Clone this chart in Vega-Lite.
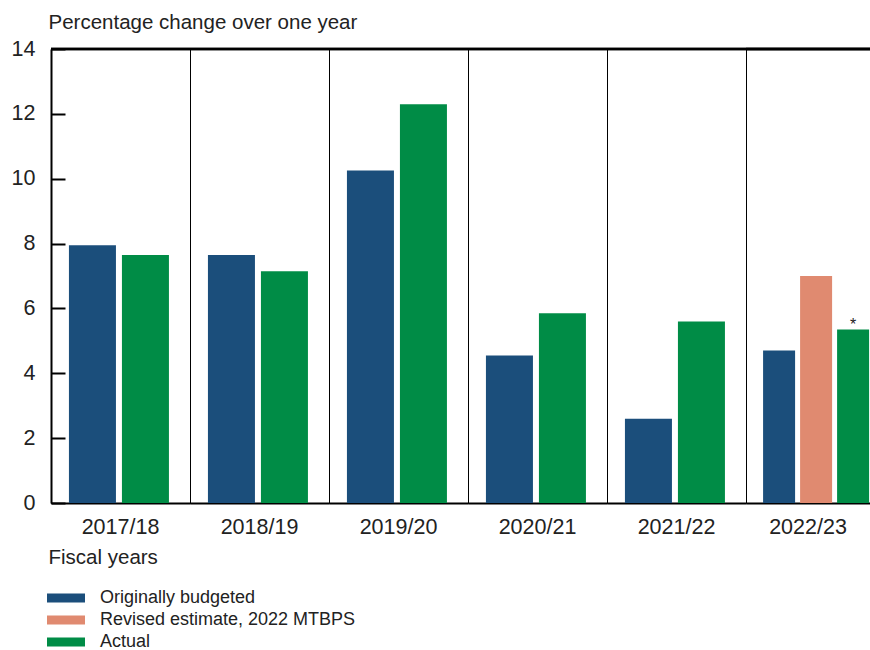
{
  "$schema": "https://vega.github.io/schema/vega-lite/v6.json",
  "padding": {"left": 10, "top": 11, "right": 0, "bottom": 0},
  "background": "white",
  "bounds": "flush",
  "data": {"values": [
    {"year": "2017/18", "series": "Originally budgeted", "value": 7.95},
    {"year": "2017/18", "series": "Actual", "value": 7.65},
    {"year": "2018/19", "series": "Originally budgeted", "value": 7.65},
    {"year": "2018/19", "series": "Actual", "value": 7.15},
    {"year": "2019/20", "series": "Originally budgeted", "value": 10.25},
    {"year": "2019/20", "series": "Actual", "value": 12.3},
    {"year": "2020/21", "series": "Originally budgeted", "value": 4.55},
    {"year": "2020/21", "series": "Actual", "value": 5.85},
    {"year": "2021/22", "series": "Originally budgeted", "value": 2.6},
    {"year": "2021/22", "series": "Actual", "value": 5.6},
    {"year": "2022/23", "series": "Originally budgeted", "value": 4.7},
    {"year": "2022/23", "series": "Revised estimate, 2022 MTBPS", "value": 7.0},
    {"year": "2022/23", "series": "Actual", "value": 5.35, "note": "*"}
  ]},
  "spacing": 0,
  "resolve": {"scale": {"xOffset": "independent", "x": "independent", "color": "shared"}},
  "hconcat": [
    {
      "width": 139, "height": 454,
      "transform": [{"filter": "datum.year === '2017/18'"}],
      "layer": [
        {"mark": {"type": "bar"}, "encoding": {
          "x": {"field": "year", "type": "nominal", "scale": {"paddingInner": 0, "paddingOuter": 0}, "axis": {"title": "Fiscal years", "titleX": -3, "titleY": 60, "titleAlign": "left", "titleBaseline": "alphabetic", "titleAnchor": "start"}},
          "xOffset": {"field": "series", "type": "nominal", "sort": ["Originally budgeted", "Revised estimate, 2022 MTBPS", "Actual"], "scale": {"paddingInner": 0.113, "paddingOuter": 0.368, "align": 0.46}},
          "y": {"field": "value", "type": "quantitative", "scale": {"domain": [0, 14], "nice": false}, "axis": {"title": "Percentage change over one year", "values": [0, 2, 4, 6, 8, 10, 12, 14], "titleAngle": 0, "titleX": -3, "titleY": -21, "titleAlign": "left", "titleBaseline": "alphabetic"}},
          "color": {"field": "series", "type": "nominal", "scale": {"domain": ["Originally budgeted", "Revised estimate, 2022 MTBPS", "Actual"], "range": ["#1b4e7b", "#e08a70", "#008c46"]}, "legend": {"title": null, "orient": "none", "legendX": 4, "legendY": 538, "direction": "vertical"}}
        }},
        {"mark": {"type": "rule", "strokeWidth": 2.5, "color": "black"}, "encoding": {"y": {"datum": 14, "type": "quantitative", "scale": {"domain": [0, 14], "nice": false}}}}
      ]
    },
    {
      "width": 139, "height": 454,
      "transform": [{"filter": "datum.year === '2018/19'"}],
      "layer": [
        {"mark": {"type": "bar"}, "encoding": {
          "x": {"field": "year", "type": "nominal", "scale": {"paddingInner": 0, "paddingOuter": 0}, "axis": {"title": null}},
          "xOffset": {"field": "series", "type": "nominal", "sort": ["Originally budgeted", "Revised estimate, 2022 MTBPS", "Actual"], "scale": {"paddingInner": 0.113, "paddingOuter": 0.368, "align": 0.46}},
          "y": {"field": "value", "type": "quantitative", "scale": {"domain": [0, 14], "nice": false}, "axis": null},
          "color": {"field": "series", "type": "nominal", "scale": {"domain": ["Originally budgeted", "Revised estimate, 2022 MTBPS", "Actual"], "range": ["#1b4e7b", "#e08a70", "#008c46"]}}
        }},
        {"mark": {"type": "rule", "strokeWidth": 2.5, "color": "black"}, "encoding": {"y": {"datum": 14, "type": "quantitative", "scale": {"domain": [0, 14], "nice": false}, "axis": null}}}
      ]
    },
    {
      "width": 139, "height": 454,
      "transform": [{"filter": "datum.year === '2019/20'"}],
      "layer": [
        {"mark": {"type": "bar"}, "encoding": {
          "x": {"field": "year", "type": "nominal", "scale": {"paddingInner": 0, "paddingOuter": 0}, "axis": {"title": null}},
          "xOffset": {"field": "series", "type": "nominal", "sort": ["Originally budgeted", "Revised estimate, 2022 MTBPS", "Actual"], "scale": {"paddingInner": 0.113, "paddingOuter": 0.368, "align": 0.46}},
          "y": {"field": "value", "type": "quantitative", "scale": {"domain": [0, 14], "nice": false}, "axis": null},
          "color": {"field": "series", "type": "nominal", "scale": {"domain": ["Originally budgeted", "Revised estimate, 2022 MTBPS", "Actual"], "range": ["#1b4e7b", "#e08a70", "#008c46"]}}
        }},
        {"mark": {"type": "rule", "strokeWidth": 2.5, "color": "black"}, "encoding": {"y": {"datum": 14, "type": "quantitative", "scale": {"domain": [0, 14], "nice": false}, "axis": null}}}
      ]
    },
    {
      "width": 139, "height": 454,
      "transform": [{"filter": "datum.year === '2020/21'"}],
      "layer": [
        {"mark": {"type": "bar"}, "encoding": {
          "x": {"field": "year", "type": "nominal", "scale": {"paddingInner": 0, "paddingOuter": 0}, "axis": {"title": null}},
          "xOffset": {"field": "series", "type": "nominal", "sort": ["Originally budgeted", "Revised estimate, 2022 MTBPS", "Actual"], "scale": {"paddingInner": 0.113, "paddingOuter": 0.368, "align": 0.46}},
          "y": {"field": "value", "type": "quantitative", "scale": {"domain": [0, 14], "nice": false}, "axis": null},
          "color": {"field": "series", "type": "nominal", "scale": {"domain": ["Originally budgeted", "Revised estimate, 2022 MTBPS", "Actual"], "range": ["#1b4e7b", "#e08a70", "#008c46"]}}
        }},
        {"mark": {"type": "rule", "strokeWidth": 2.5, "color": "black"}, "encoding": {"y": {"datum": 14, "type": "quantitative", "scale": {"domain": [0, 14], "nice": false}, "axis": null}}}
      ]
    },
    {
      "width": 139, "height": 454,
      "transform": [{"filter": "datum.year === '2021/22'"}],
      "layer": [
        {"mark": {"type": "bar"}, "encoding": {
          "x": {"field": "year", "type": "nominal", "scale": {"paddingInner": 0, "paddingOuter": 0}, "axis": {"title": null}},
          "xOffset": {"field": "series", "type": "nominal", "sort": ["Originally budgeted", "Revised estimate, 2022 MTBPS", "Actual"], "scale": {"paddingInner": 0.113, "paddingOuter": 0.368, "align": 0.46}},
          "y": {"field": "value", "type": "quantitative", "scale": {"domain": [0, 14], "nice": false}, "axis": null},
          "color": {"field": "series", "type": "nominal", "scale": {"domain": ["Originally budgeted", "Revised estimate, 2022 MTBPS", "Actual"], "range": ["#1b4e7b", "#e08a70", "#008c46"]}}
        }},
        {"mark": {"type": "rule", "strokeWidth": 2.5, "color": "black"}, "encoding": {"y": {"datum": 14, "type": "quantitative", "scale": {"domain": [0, 14], "nice": false}, "axis": null}}}
      ]
    },
    {
      "width": 124, "height": 454,
      "view": {"stroke": null},
      "transform": [{"filter": "datum.year === '2022/23'"}],
      "encoding": {
        "x": {"field": "year", "type": "nominal", "scale": {"paddingInner": 0, "paddingOuter": 0}, "axis": {"title": null}},
        "xOffset": {"field": "series", "type": "nominal", "sort": ["Originally budgeted", "Revised estimate, 2022 MTBPS", "Actual"], "scale": {"paddingInner": 0.135, "paddingOuter": 0.243, "align": 0.95}},
        "y": {"field": "value", "type": "quantitative", "scale": {"domain": [0, 14], "nice": false}, "axis": null}
      },
      "layer": [
        {"mark": {"type": "bar"}, "encoding": {
          "color": {"field": "series", "type": "nominal", "scale": {"domain": ["Originally budgeted", "Revised estimate, 2022 MTBPS", "Actual"], "range": ["#1b4e7b", "#e08a70", "#008c46"]}}
        }},
        {"transform": [{"filter": "datum.note"}], "mark": {"type": "text", "fontSize": 16, "baseline": "alphabetic", "dy": 0, "color": "#222"}, "encoding": {"text": {"field": "note"}}},
        {"mark": {"type": "rule", "strokeWidth": 2.5, "color": "black"}, "encoding": {"x": null, "xOffset": null, "y": {"datum": 14, "type": "quantitative", "scale": {"domain": [0, 14], "nice": false}, "axis": null}}}
      ]
    }
  ],
  "config": {
    "font": "Liberation Sans",
    "view": {"stroke": "black", "strokeWidth": 1},
    "axis": {"labelFontSize": 21.5, "titleFontSize": 20.5, "labelColor": "#222", "titleColor": "#222", "titleFontWeight": "normal", "domainColor": "black", "domainWidth": 2, "grid": false},
    "axisX": {"ticks": false, "labelPadding": 13, "labelAngle": 0},
    "axisY": {"tickSize": -14, "tickWidth": 2, "tickColor": "black", "labelPadding": 30},
    "legend": {"symbolType": "M-1.727,-0.41H1.727V0.41H-1.727Z", "symbolSize": 484, "symbolStrokeWidth": 0, "labelFontSize": 18, "labelColor": "#222", "labelOffset": 23, "rowPadding": 2, "labelLimit": 400}
  }
}
